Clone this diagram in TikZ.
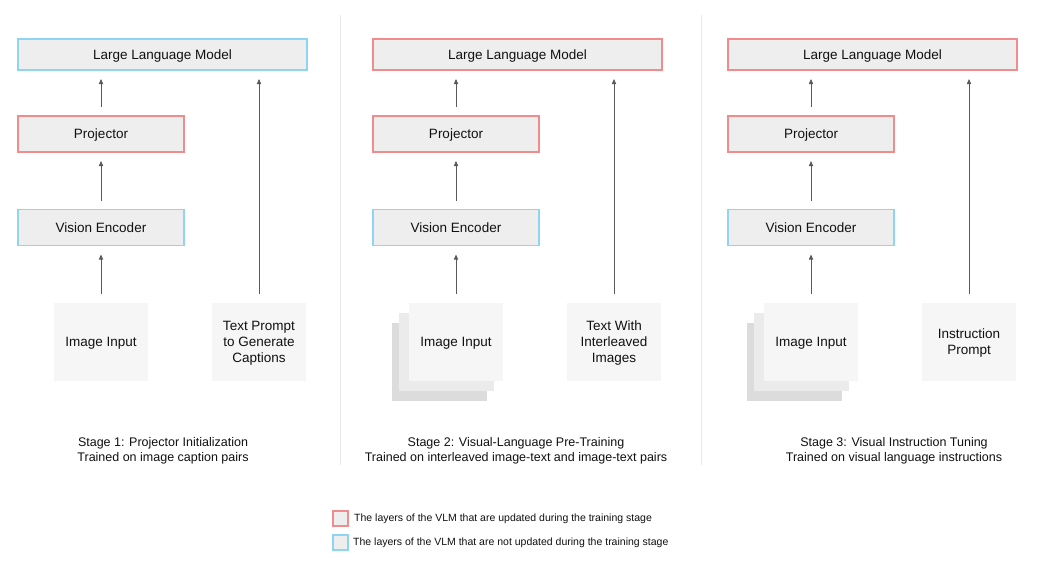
\documentclass[tikz,border=0pt]{standalone}
\usepackage{fontspec}
\setmainfont{Liberation Sans}
\usetikzlibrary{arrows.meta}
\definecolor{redb}{HTML}{F28B8B}
\definecolor{blueb}{HTML}{8DD5F0}
\definecolor{boxfill}{HTML}{EEEEEE}
\definecolor{inputfill}{HTML}{F6F6F6}
\definecolor{stackmid}{HTML}{EBEBEB}
\definecolor{stackback}{HTML}{DCDCDC}
\definecolor{divider}{HTML}{E8E8E8}
\definecolor{arrowc}{HTML}{5A5A5A}
\definecolor{textc}{HTML}{111111}
\tikzset{
  layer/.style={draw, fill=boxfill, line width=1.2pt, inner sep=0pt, outer sep=0pt,
    font=\fontsize{13.5}{16}\selectfont, text=textc, text depth=0pt},
  updated/.style={layer, draw=redb},
  frozen/.style={layer, draw=blueb},
  llmbox/.style={minimum width=289pt, minimum height=31pt},
  midbox/.style={minimum width=166pt, minimum height=36pt},
  inputbox/.style={fill=inputfill, inner sep=0pt, outer sep=0pt, minimum width=94pt,
    minimum height=78pt, align=center, font=\fontsize{13.5}{16}\selectfont, text=textc,
    text depth=0pt},
  stackbox/.style={inner sep=0pt, outer sep=0pt, minimum width=95pt, minimum height=78pt},
  flow/.style={draw=arrowc, line width=0.9pt, -{Triangle[length=5pt,width=4.2pt]},
    shorten <=9pt, shorten >=9pt},
  caption/.style={align=center, font=\fontsize{12.5}{15}\selectfont, text=textc, text depth=0pt},
  legendsq/.style={draw, fill=boxfill, line width=1.2pt, inner sep=0pt, minimum size=15pt},
  legendtxt/.style={anchor=west, inner sep=0pt, font=\fontsize{10.5}{12}\selectfont, text=textc},
  divline/.style={draw=divider, line width=1pt},
}
\begin{document}
\begin{tikzpicture}[x=1pt,y=-1pt]
\useasboundingbox (0,0) rectangle (1040,563);
\fill[white] (0,0) rectangle (1040,563);

% dividers
\draw[divline] (340,15) -- (340,465);
\draw[divline] (701,15) -- (701,465);

% ---------- Stage 1 ----------
\node[frozen, llmbox] (llm1) at (162.5,54.5) {Large Language Model};
\node[updated, midbox] (proj1) at (101,134) {Projector};
\node[frozen, midbox] (ve1) at (101,227.5) {Vision Encoder};
\node[inputbox] (img1) at (101,342) {Image Input};
\node[inputbox] (txt1) at (259,342) {Text Prompt\\to Generate\\Captions};
\coordinate (llm1in) at (259,70);
\draw[flow] (proj1.north) -- (proj1.north |- llm1.south);
\draw[flow] (ve1) -- (proj1);
\draw[flow] (img1) -- (ve1);
\draw[flow] (txt1.north) -- (llm1in);
\node[caption] (cap1) at (163,449.5) {Stage 1: Projector Initialization\\Trained on image caption pairs};

% ---------- Stage 2 ----------
\node[updated, llmbox] (llm2) at (517.5,54.5) {Large Language Model};
\node[updated, midbox] (proj2) at (456,134) {Projector};
\node[frozen, midbox] (ve2) at (456,227.5) {Vision Encoder};
\node[stackbox, fill=stackback] (img2c) at (439.5,362) {};
\node[stackbox, fill=stackmid] (img2b) at (446.5,351.5) {};
\node[inputbox] (img2) at (456,342) {Image Input};
\node[inputbox] (txt2) at (614,342) {Text With\\Interleaved\\Images};
\coordinate (llm2in) at (614,70);
\draw[flow] (proj2.north) -- (proj2.north |- llm2.south);
\draw[flow] (ve2) -- (proj2);
\draw[flow] (img2) -- (ve2);
\draw[flow] (txt2.north) -- (llm2in);
\node[caption] (cap2) at (516,449.5) {Stage 2: Visual-Language Pre-Training\\Trained on interleaved image-text and image-text pairs};

% ---------- Stage 3 ----------
\node[updated, llmbox] (llm3) at (872.5,54.5) {Large Language Model};
\node[updated, midbox] (proj3) at (811,134) {Projector};
\node[frozen, midbox] (ve3) at (811,227.5) {Vision Encoder};
\node[stackbox, fill=stackback] (img3c) at (794.5,362) {};
\node[stackbox, fill=stackmid] (img3b) at (801.5,351.5) {};
\node[inputbox] (img3) at (811,342) {Image Input};
\node[inputbox] (txt3) at (969,342) {Instruction\\Prompt};
\coordinate (llm3in) at (969,70);
\draw[flow] (proj3.north) -- (proj3.north |- llm3.south);
\draw[flow] (ve3) -- (proj3);
\draw[flow] (img3) -- (ve3);
\draw[flow] (txt3.north) -- (llm3in);
\node[caption] (cap3) at (894,449.5) {Stage 3: Visual Instruction Tuning\\Trained on visual language instructions};

% ---------- Legend ----------
\node[legendsq, draw=redb] (leg1) at (340.5,518.5) {};
\node[legendtxt] (leg1t) at (354,519) {The layers of the VLM that are updated during the training stage};
\node[legendsq, draw=blueb] (leg2) at (340.5,542.5) {};
\node[legendtxt] (leg2t) at (353,543) {The layers of the VLM that are not updated during the training stage};
\end{tikzpicture}
\end{document}
